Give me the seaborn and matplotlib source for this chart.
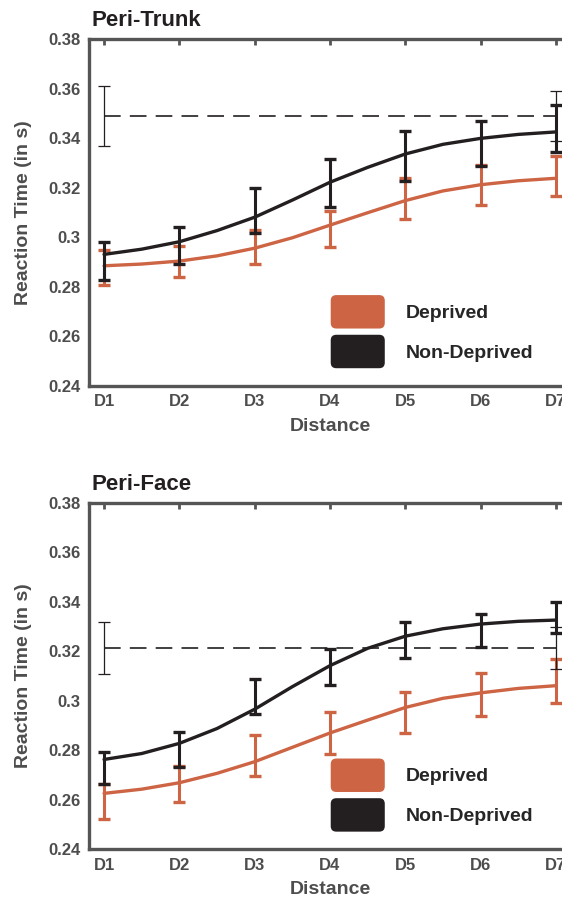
import numpy as np
import pandas as pd
import matplotlib
matplotlib.use('Agg')
import matplotlib.pyplot as plt
import seaborn as sns
from matplotlib.patches import Patch, FancyBboxPatch
from matplotlib.legend_handler import HandlerPatch

# distances
distance = [1, 2, 3, 4, 5, 6, 7]
distance_labels = ['D1', 'D2', 'D3', 'D4', 'D5', 'D6', 'D7']
curve_x = [1, 1.5, 2, 2.5, 3, 3.5, 4, 4.5, 5, 5.5, 6, 6.5, 7]
yticks = [0.24, 0.26, 0.28, 0.30, 0.32, 0.34, 0.36, 0.38]

# Peri-Trunk
trunk_dep_mean = [0.2878, 0.2903, 0.2961, 0.3033, 0.3156, 0.3211, 0.3248]
trunk_dep_sem = [0.0072, 0.0062, 0.0069, 0.0071, 0.0083, 0.0079, 0.0081]
trunk_nondep_mean = [0.2904, 0.2967, 0.3107, 0.3220, 0.3328, 0.3380, 0.3440]
trunk_nondep_sem = [0.0076, 0.0076, 0.0091, 0.0097, 0.0101, 0.0091, 0.0095]
trunk_dep_fit = [0.2885, 0.2892, 0.2904, 0.2925, 0.2956, 0.2998, 0.3049,
                 0.3099, 0.3148, 0.3187, 0.3212, 0.3228, 0.3238]
trunk_nondep_fit = [0.2931, 0.2952, 0.2982, 0.3027, 0.3081, 0.3150, 0.3222,
                    0.3282, 0.3336, 0.3375, 0.3399, 0.3415, 0.3425]
trunk_ref_mean = 0.3489
trunk_ref_sem = [0.0120, 0.0100]

# Peri-Face
face_dep_mean = [0.2592, 0.2663, 0.2778, 0.2871, 0.2952, 0.3026, 0.3079]
face_dep_sem = [0.0070, 0.0073, 0.0082, 0.0084, 0.0084, 0.0088, 0.0089]
face_nondep_mean = [0.2728, 0.2804, 0.3016, 0.3136, 0.3245, 0.3284, 0.3337]
face_nondep_sem = [0.0066, 0.0071, 0.0071, 0.0073, 0.0074, 0.0066, 0.0062]
face_dep_fit = [0.2626, 0.2643, 0.2669, 0.2707, 0.2754, 0.2812, 0.2870,
                0.2922, 0.2973, 0.3010, 0.3032, 0.3050, 0.3061]
face_nondep_fit = [0.2763, 0.2787, 0.2828, 0.2888, 0.2966, 0.3057, 0.3142,
                   0.3212, 0.3261, 0.3291, 0.3310, 0.3321, 0.3326]
face_ref_mean = 0.3214
face_ref_sem = [0.0105, 0.0086]

RED = '#CD6444'
BLACK = '#231F20'
GRAY = '#4D4D4D'
SPINE = '#555555'

sns.set_theme(style='white')
plt.rcParams['font.family'] = ['Liberation Sans', 'DejaVu Sans']
plt.rcParams['font.weight'] = 'bold'


def rounded_patch(legend, orig_handle, xdescent, ydescent, width, height, fontsize):
    return FancyBboxPatch((-xdescent, -ydescent), width, height,
                          boxstyle='round,pad=0,rounding_size=4')


def draw_panel(ax, title, dep_mean, dep_sem, nondep_mean, nondep_sem,
               dep_fit, nondep_fit, ref_mean, ref_sem):
    groups = [('Deprived', dep_mean, dep_sem, dep_fit, RED, 2),
              ('Non-Deprived', nondep_mean, nondep_sem, nondep_fit, BLACK, 3)]
    for name, mean, sem, fit, color, z in groups:
        df = pd.DataFrame({'distance': curve_x, 'rt': fit})
        sns.lineplot(data=df, x='distance', y='rt', color=color, lw=2.4,
                     ax=ax, zorder=z)
        ax.errorbar(distance, mean, yerr=sem, fmt='none', ecolor=color,
                    elinewidth=2.2, capsize=4.6, capthick=2.4, zorder=z + 0.5)

    # reference level (dashed) with its error at both ends
    ends = [distance[0], distance[-1]]
    ax.plot(ends, [ref_mean, ref_mean], color=BLACK, lw=1.2,
            ls=(0, (10, 5.5)), zorder=5)
    ax.errorbar(ends, [ref_mean, ref_mean], yerr=ref_sem, fmt='none',
                ecolor=BLACK, elinewidth=0.9, capsize=4, capthick=0.9, zorder=5)

    ax.set_xlim(0.8, 7.2)
    ax.set_ylim(0.24, 0.38)
    ax.set_xticks(distance)
    ax.set_xticklabels(distance_labels)
    ax.set_yticks(yticks)
    ax.set_yticklabels([f'{t:g}' for t in yticks])
    ax.tick_params(direction='in', top=True, right=True, length=4, width=2,
                   color=SPINE, labelsize=12, labelcolor=GRAY, pad=6)
    for s in ax.spines.values():
        s.set_visible(True)
        s.set_color(SPINE)
        s.set_linewidth(2.4)
    ax.set_xlabel('Distance', fontsize=14, color=GRAY, fontweight='bold', labelpad=6)
    ax.set_ylabel('Reaction Time (in s)', fontsize=14, color=GRAY,
                  fontweight='bold', labelpad=12)
    ax.text(0.005, 1.037, title, transform=ax.transAxes, fontsize=16,
            fontweight='bold', color=BLACK, va='baseline', ha='left')

    handles = [Patch(facecolor=RED, edgecolor='none', label='Deprived'),
               Patch(facecolor=BLACK, edgecolor='none', label='Non-Deprived')]
    ax.legend(handles=handles, loc='upper left', bbox_to_anchor=(0.5015, 0.262),
              frameon=False, borderaxespad=0, borderpad=0, fontsize=14,
              handlelength=2.78, handleheight=2.27, labelspacing=0.32,
              handletextpad=1.1,
              handler_map={Patch: HandlerPatch(patch_func=rounded_patch)})


fig = plt.figure(figsize=(5.62, 9.0), dpi=100)
ax_top = fig.add_axes([89 / 562, 0.5711, 482 / 562, 0.3856])
ax_bot = fig.add_axes([89 / 562, 0.0563, 482 / 562, 0.3851])

draw_panel(ax_top, 'Peri-Trunk', trunk_dep_mean, trunk_dep_sem,
           trunk_nondep_mean, trunk_nondep_sem, trunk_dep_fit,
           trunk_nondep_fit, trunk_ref_mean, trunk_ref_sem)
draw_panel(ax_bot, 'Peri-Face', face_dep_mean, face_dep_sem,
           face_nondep_mean, face_nondep_sem, face_dep_fit,
           face_nondep_fit, face_ref_mean, face_ref_sem)

fig.savefig('out.png', dpi=100, facecolor='white')
